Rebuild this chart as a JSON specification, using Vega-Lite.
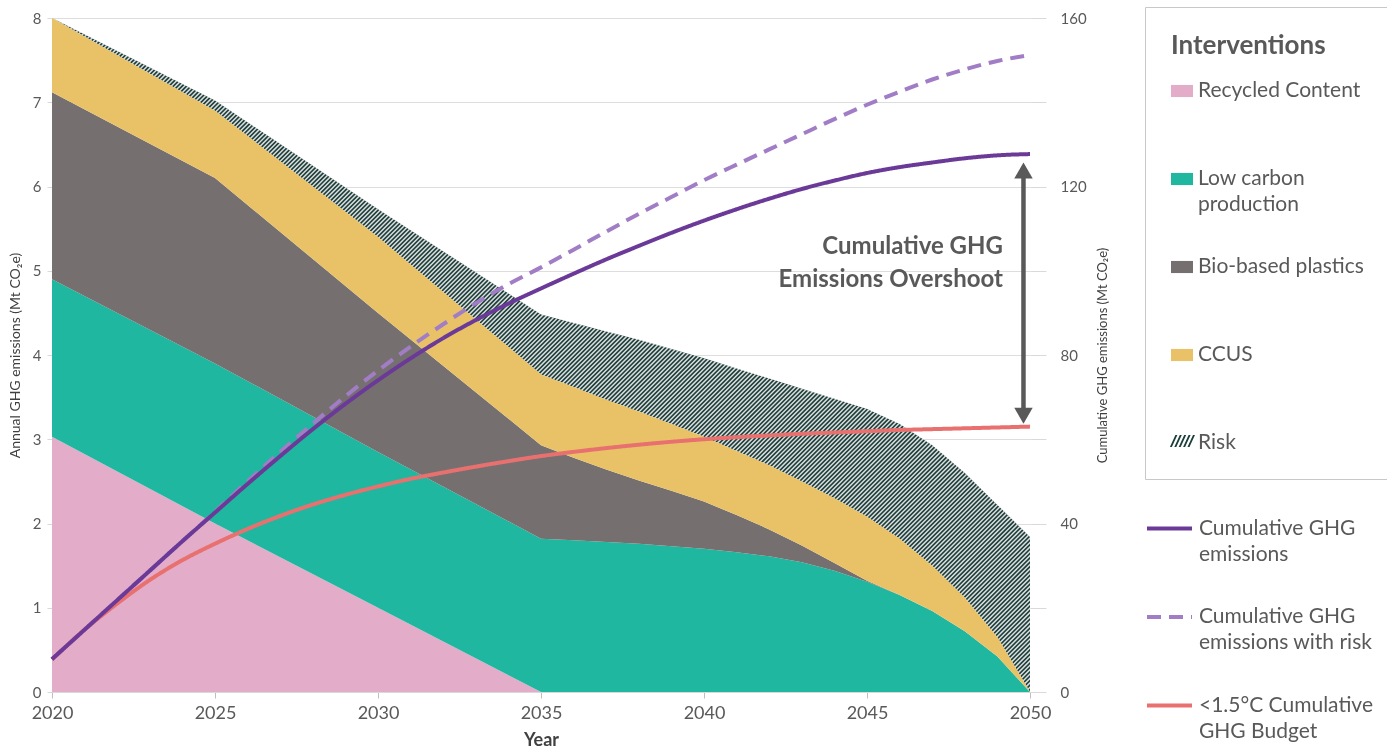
{
  "$schema": "https://vega.github.io/schema/vega-lite/v6.json",
  "width": 978,
  "height": 674,
  "autosize": "none",
  "padding": {"left": 52, "top": 18, "right": 357, "bottom": 59},
  "background": "white",
  "config": {"font": "Lato", "view": {"stroke": null}, "style": {"guide-label": {"lineHeight": 26}}},
  "datasets": {
    "areas": [
      {"year": 2020, "intervention": "Recycled Content", "order": 1, "value": 3.03},
      {"year": 2020, "intervention": "Low carbon production", "order": 2, "value": 1.87},
      {"year": 2020, "intervention": "Bio-based plastics", "order": 3, "value": 2.22},
      {"year": 2020, "intervention": "CCUS", "order": 4, "value": 0.88},
      {"year": 2020, "intervention": "Risk", "order": 5, "value": 0.0},
      {"year": 2025, "intervention": "Recycled Content", "order": 1, "value": 2.0},
      {"year": 2025, "intervention": "Low carbon production", "order": 2, "value": 1.9},
      {"year": 2025, "intervention": "Bio-based plastics", "order": 3, "value": 2.2},
      {"year": 2025, "intervention": "CCUS", "order": 4, "value": 0.8},
      {"year": 2025, "intervention": "Risk", "order": 5, "value": 0.12},
      {"year": 2030, "intervention": "Recycled Content", "order": 1, "value": 1.0},
      {"year": 2030, "intervention": "Low carbon production", "order": 2, "value": 1.85},
      {"year": 2030, "intervention": "Bio-based plastics", "order": 3, "value": 1.65},
      {"year": 2030, "intervention": "CCUS", "order": 4, "value": 0.9},
      {"year": 2030, "intervention": "Risk", "order": 5, "value": 0.33},
      {"year": 2035, "intervention": "Recycled Content", "order": 1, "value": 0},
      {"year": 2035, "intervention": "Low carbon production", "order": 2, "value": 1.82},
      {"year": 2035, "intervention": "Bio-based plastics", "order": 3, "value": 1.11},
      {"year": 2035, "intervention": "CCUS", "order": 4, "value": 0.84},
      {"year": 2035, "intervention": "Risk", "order": 5, "value": 0.71},
      {"year": 2036, "intervention": "Recycled Content", "order": 1, "value": 0},
      {"year": 2036, "intervention": "Low carbon production", "order": 2, "value": 1.8},
      {"year": 2036, "intervention": "Bio-based plastics", "order": 3, "value": 0.98},
      {"year": 2036, "intervention": "CCUS", "order": 4, "value": 0.84},
      {"year": 2036, "intervention": "Risk", "order": 5, "value": 0.76},
      {"year": 2037, "intervention": "Recycled Content", "order": 1, "value": 0},
      {"year": 2037, "intervention": "Low carbon production", "order": 2, "value": 1.78},
      {"year": 2037, "intervention": "Bio-based plastics", "order": 3, "value": 0.86},
      {"year": 2037, "intervention": "CCUS", "order": 4, "value": 0.83},
      {"year": 2037, "intervention": "Risk", "order": 5, "value": 0.81},
      {"year": 2038, "intervention": "Recycled Content", "order": 1, "value": 0},
      {"year": 2038, "intervention": "Low carbon production", "order": 2, "value": 1.76},
      {"year": 2038, "intervention": "Bio-based plastics", "order": 3, "value": 0.75},
      {"year": 2038, "intervention": "CCUS", "order": 4, "value": 0.82},
      {"year": 2038, "intervention": "Risk", "order": 5, "value": 0.85},
      {"year": 2039, "intervention": "Recycled Content", "order": 1, "value": 0},
      {"year": 2039, "intervention": "Low carbon production", "order": 2, "value": 1.73},
      {"year": 2039, "intervention": "Bio-based plastics", "order": 3, "value": 0.66},
      {"year": 2039, "intervention": "CCUS", "order": 4, "value": 0.79},
      {"year": 2039, "intervention": "Risk", "order": 5, "value": 0.89},
      {"year": 2040, "intervention": "Recycled Content", "order": 1, "value": 0},
      {"year": 2040, "intervention": "Low carbon production", "order": 2, "value": 1.7},
      {"year": 2040, "intervention": "Bio-based plastics", "order": 3, "value": 0.56},
      {"year": 2040, "intervention": "CCUS", "order": 4, "value": 0.77},
      {"year": 2040, "intervention": "Risk", "order": 5, "value": 0.93},
      {"year": 2041, "intervention": "Recycled Content", "order": 1, "value": 0},
      {"year": 2041, "intervention": "Low carbon production", "order": 2, "value": 1.66},
      {"year": 2041, "intervention": "Bio-based plastics", "order": 3, "value": 0.44},
      {"year": 2041, "intervention": "CCUS", "order": 4, "value": 0.76},
      {"year": 2041, "intervention": "Risk", "order": 5, "value": 0.98},
      {"year": 2042, "intervention": "Recycled Content", "order": 1, "value": 0},
      {"year": 2042, "intervention": "Low carbon production", "order": 2, "value": 1.61},
      {"year": 2042, "intervention": "Bio-based plastics", "order": 3, "value": 0.32},
      {"year": 2042, "intervention": "CCUS", "order": 4, "value": 0.76},
      {"year": 2042, "intervention": "Risk", "order": 5, "value": 1.03},
      {"year": 2043, "intervention": "Recycled Content", "order": 1, "value": 0},
      {"year": 2043, "intervention": "Low carbon production", "order": 2, "value": 1.54},
      {"year": 2043, "intervention": "Bio-based plastics", "order": 3, "value": 0.2},
      {"year": 2043, "intervention": "CCUS", "order": 4, "value": 0.76},
      {"year": 2043, "intervention": "Risk", "order": 5, "value": 1.1},
      {"year": 2044, "intervention": "Recycled Content", "order": 1, "value": 0},
      {"year": 2044, "intervention": "Low carbon production", "order": 2, "value": 1.44},
      {"year": 2044, "intervention": "Bio-based plastics", "order": 3, "value": 0.09},
      {"year": 2044, "intervention": "CCUS", "order": 4, "value": 0.77},
      {"year": 2044, "intervention": "Risk", "order": 5, "value": 1.18},
      {"year": 2045, "intervention": "Recycled Content", "order": 1, "value": 0},
      {"year": 2045, "intervention": "Low carbon production", "order": 2, "value": 1.31},
      {"year": 2045, "intervention": "Bio-based plastics", "order": 3, "value": 0.01},
      {"year": 2045, "intervention": "CCUS", "order": 4, "value": 0.76},
      {"year": 2045, "intervention": "Risk", "order": 5, "value": 1.28},
      {"year": 2046, "intervention": "Recycled Content", "order": 1, "value": 0},
      {"year": 2046, "intervention": "Low carbon production", "order": 2, "value": 1.15},
      {"year": 2046, "intervention": "Bio-based plastics", "order": 3, "value": 0},
      {"year": 2046, "intervention": "CCUS", "order": 4, "value": 0.67},
      {"year": 2046, "intervention": "Risk", "order": 5, "value": 1.36},
      {"year": 2047, "intervention": "Recycled Content", "order": 1, "value": 0},
      {"year": 2047, "intervention": "Low carbon production", "order": 2, "value": 0.96},
      {"year": 2047, "intervention": "Bio-based plastics", "order": 3, "value": 0},
      {"year": 2047, "intervention": "CCUS", "order": 4, "value": 0.54},
      {"year": 2047, "intervention": "Risk", "order": 5, "value": 1.43},
      {"year": 2048, "intervention": "Recycled Content", "order": 1, "value": 0},
      {"year": 2048, "intervention": "Low carbon production", "order": 2, "value": 0.72},
      {"year": 2048, "intervention": "Bio-based plastics", "order": 3, "value": 0},
      {"year": 2048, "intervention": "CCUS", "order": 4, "value": 0.4},
      {"year": 2048, "intervention": "Risk", "order": 5, "value": 1.48},
      {"year": 2049, "intervention": "Recycled Content", "order": 1, "value": 0},
      {"year": 2049, "intervention": "Low carbon production", "order": 2, "value": 0.42},
      {"year": 2049, "intervention": "Bio-based plastics", "order": 3, "value": 0},
      {"year": 2049, "intervention": "CCUS", "order": 4, "value": 0.23},
      {"year": 2049, "intervention": "Risk", "order": 5, "value": 1.57},
      {"year": 2050, "intervention": "Recycled Content", "order": 1, "value": 0},
      {"year": 2050, "intervention": "Low carbon production", "order": 2, "value": 0},
      {"year": 2050, "intervention": "Bio-based plastics", "order": 3, "value": 0},
      {"year": 2050, "intervention": "CCUS", "order": 4, "value": 0},
      {"year": 2050, "intervention": "Risk", "order": 5, "value": 1.84}
    ],
    "lines": [
      {"year": 2020, "series": "Cumulative GHG emissions with risk", "value": 7.8},
      {"year": 2021, "series": "Cumulative GHG emissions with risk", "value": 14.8},
      {"year": 2022, "series": "Cumulative GHG emissions with risk", "value": 21.8},
      {"year": 2023, "series": "Cumulative GHG emissions with risk", "value": 28.8},
      {"year": 2024, "series": "Cumulative GHG emissions with risk", "value": 35.8},
      {"year": 2025, "series": "Cumulative GHG emissions with risk", "value": 42.8},
      {"year": 2026, "series": "Cumulative GHG emissions with risk", "value": 50.0},
      {"year": 2027, "series": "Cumulative GHG emissions with risk", "value": 57.0},
      {"year": 2028, "series": "Cumulative GHG emissions with risk", "value": 63.7},
      {"year": 2029, "series": "Cumulative GHG emissions with risk", "value": 70.2},
      {"year": 2030, "series": "Cumulative GHG emissions with risk", "value": 76.3},
      {"year": 2031, "series": "Cumulative GHG emissions with risk", "value": 82.0},
      {"year": 2032, "series": "Cumulative GHG emissions with risk", "value": 87.3},
      {"year": 2033, "series": "Cumulative GHG emissions with risk", "value": 92.3},
      {"year": 2034, "series": "Cumulative GHG emissions with risk", "value": 96.8},
      {"year": 2035, "series": "Cumulative GHG emissions with risk", "value": 100.8},
      {"year": 2036, "series": "Cumulative GHG emissions with risk", "value": 105.0},
      {"year": 2037, "series": "Cumulative GHG emissions with risk", "value": 109.3},
      {"year": 2038, "series": "Cumulative GHG emissions with risk", "value": 113.5},
      {"year": 2039, "series": "Cumulative GHG emissions with risk", "value": 117.5},
      {"year": 2040, "series": "Cumulative GHG emissions with risk", "value": 121.5},
      {"year": 2041, "series": "Cumulative GHG emissions with risk", "value": 125.2},
      {"year": 2042, "series": "Cumulative GHG emissions with risk", "value": 128.8},
      {"year": 2043, "series": "Cumulative GHG emissions with risk", "value": 132.4},
      {"year": 2044, "series": "Cumulative GHG emissions with risk", "value": 136.0},
      {"year": 2045, "series": "Cumulative GHG emissions with risk", "value": 139.4},
      {"year": 2046, "series": "Cumulative GHG emissions with risk", "value": 142.5},
      {"year": 2047, "series": "Cumulative GHG emissions with risk", "value": 145.4},
      {"year": 2048, "series": "Cumulative GHG emissions with risk", "value": 147.8},
      {"year": 2049, "series": "Cumulative GHG emissions with risk", "value": 149.8},
      {"year": 2050, "series": "Cumulative GHG emissions with risk", "value": 151.2},
      {"year": 2020, "series": "<1.5°C Cumulative GHG Budget", "value": 7.7},
      {"year": 2021, "series": "<1.5°C Cumulative GHG Budget", "value": 14.8},
      {"year": 2022, "series": "<1.5°C Cumulative GHG Budget", "value": 21.0},
      {"year": 2023, "series": "<1.5°C Cumulative GHG Budget", "value": 26.6},
      {"year": 2024, "series": "<1.5°C Cumulative GHG Budget", "value": 31.3},
      {"year": 2025, "series": "<1.5°C Cumulative GHG Budget", "value": 35.2},
      {"year": 2026, "series": "<1.5°C Cumulative GHG Budget", "value": 38.7},
      {"year": 2027, "series": "<1.5°C Cumulative GHG Budget", "value": 41.8},
      {"year": 2028, "series": "<1.5°C Cumulative GHG Budget", "value": 44.5},
      {"year": 2029, "series": "<1.5°C Cumulative GHG Budget", "value": 46.8},
      {"year": 2030, "series": "<1.5°C Cumulative GHG Budget", "value": 48.8},
      {"year": 2031, "series": "<1.5°C Cumulative GHG Budget", "value": 50.6},
      {"year": 2032, "series": "<1.5°C Cumulative GHG Budget", "value": 52.1},
      {"year": 2033, "series": "<1.5°C Cumulative GHG Budget", "value": 53.5},
      {"year": 2034, "series": "<1.5°C Cumulative GHG Budget", "value": 54.8},
      {"year": 2035, "series": "<1.5°C Cumulative GHG Budget", "value": 56.0},
      {"year": 2036, "series": "<1.5°C Cumulative GHG Budget", "value": 57.0},
      {"year": 2037, "series": "<1.5°C Cumulative GHG Budget", "value": 57.9},
      {"year": 2038, "series": "<1.5°C Cumulative GHG Budget", "value": 58.7},
      {"year": 2039, "series": "<1.5°C Cumulative GHG Budget", "value": 59.4},
      {"year": 2040, "series": "<1.5°C Cumulative GHG Budget", "value": 60.0},
      {"year": 2041, "series": "<1.5°C Cumulative GHG Budget", "value": 60.5},
      {"year": 2042, "series": "<1.5°C Cumulative GHG Budget", "value": 60.9},
      {"year": 2043, "series": "<1.5°C Cumulative GHG Budget", "value": 61.3},
      {"year": 2044, "series": "<1.5°C Cumulative GHG Budget", "value": 61.6},
      {"year": 2045, "series": "<1.5°C Cumulative GHG Budget", "value": 61.9},
      {"year": 2046, "series": "<1.5°C Cumulative GHG Budget", "value": 62.2},
      {"year": 2047, "series": "<1.5°C Cumulative GHG Budget", "value": 62.4},
      {"year": 2048, "series": "<1.5°C Cumulative GHG Budget", "value": 62.6},
      {"year": 2049, "series": "<1.5°C Cumulative GHG Budget", "value": 62.8},
      {"year": 2050, "series": "<1.5°C Cumulative GHG Budget", "value": 63.0},
      {"year": 2020, "series": "Cumulative GHG emissions", "value": 7.8},
      {"year": 2021, "series": "Cumulative GHG emissions", "value": 14.8},
      {"year": 2022, "series": "Cumulative GHG emissions", "value": 21.8},
      {"year": 2023, "series": "Cumulative GHG emissions", "value": 28.8},
      {"year": 2024, "series": "Cumulative GHG emissions", "value": 35.8},
      {"year": 2025, "series": "Cumulative GHG emissions", "value": 42.6},
      {"year": 2026, "series": "Cumulative GHG emissions", "value": 49.4},
      {"year": 2027, "series": "Cumulative GHG emissions", "value": 56.0},
      {"year": 2028, "series": "Cumulative GHG emissions", "value": 62.4},
      {"year": 2029, "series": "Cumulative GHG emissions", "value": 68.4},
      {"year": 2030, "series": "Cumulative GHG emissions", "value": 74.0},
      {"year": 2031, "series": "Cumulative GHG emissions", "value": 79.2},
      {"year": 2032, "series": "Cumulative GHG emissions", "value": 84.0},
      {"year": 2033, "series": "Cumulative GHG emissions", "value": 88.3},
      {"year": 2034, "series": "Cumulative GHG emissions", "value": 92.2},
      {"year": 2035, "series": "Cumulative GHG emissions", "value": 95.8},
      {"year": 2036, "series": "Cumulative GHG emissions", "value": 99.3},
      {"year": 2037, "series": "Cumulative GHG emissions", "value": 102.7},
      {"year": 2038, "series": "Cumulative GHG emissions", "value": 105.9},
      {"year": 2039, "series": "Cumulative GHG emissions", "value": 109.0},
      {"year": 2040, "series": "Cumulative GHG emissions", "value": 111.9},
      {"year": 2041, "series": "Cumulative GHG emissions", "value": 114.6},
      {"year": 2042, "series": "Cumulative GHG emissions", "value": 117.1},
      {"year": 2043, "series": "Cumulative GHG emissions", "value": 119.4},
      {"year": 2044, "series": "Cumulative GHG emissions", "value": 121.4},
      {"year": 2045, "series": "Cumulative GHG emissions", "value": 123.2},
      {"year": 2046, "series": "Cumulative GHG emissions", "value": 124.6},
      {"year": 2047, "series": "Cumulative GHG emissions", "value": 125.7},
      {"year": 2048, "series": "Cumulative GHG emissions", "value": 126.7},
      {"year": 2049, "series": "Cumulative GHG emissions", "value": 127.4},
      {"year": 2050, "series": "Cumulative GHG emissions", "value": 127.7}
    ]
  },
  "layer": [
    {
      "layer": [
        {
          "data": {"name": "areas"},
          "transform": [
            {"stack": "value", "groupby": ["year"], "sort": [{"field": "order", "order": "ascending"}], "as": ["y0", "y1"]},
            {"filter": "datum.intervention === 'Risk'"}
          ],
          "mark": {"type": "area", "opacity": 1},
          "encoding": {
            "x": {
              "field": "year", "type": "quantitative",
              "scale": {"domain": [2020, 2050], "nice": false, "zero": false},
              "axis": {
                "title": "Year", "values": [2020, 2025, 2030, 2035, 2040, 2045, 2050], "format": "d",
                "labelFlush": false, "labelFontSize": 18, "labelColor": "#595959", "labelPadding": 6,
                "tickSize": 6, "tickColor": "#BFBFBF", "domainColor": "#D9D9D9", "grid": false,
                "titleFontSize": 18, "titleColor": "#404040", "titleFontWeight": "bold", "titlePadding": 9,
                "zindex": 1
              }
            },
            "y": {
              "field": "y1", "type": "quantitative",
              "scale": {"domain": [0, 8], "nice": false, "zero": true},
              "axis": {
                "title": "Annual GHG emissions (Mt CO₂e)", "values": [0, 1, 2, 3, 4, 5, 6, 7, 8], "format": "d",
                "grid": true, "gridColor": "#DDDDDD", "domain": false, "tickSize": 5, "tickColor": "#D9D9D9",
                "labelFontSize": 15, "labelColor": "#595959", "labelPadding": 6,
                "titleFontSize": 14, "titleFontWeight": "normal", "titleColor": "#404040", "titlePadding": 10,
                "zindex": 0
              }
            },
            "y2": {"field": "y0"},
            "fill": {
              "datum": "Risk", "type": "nominal",
              "scale": {"domain": ["Risk"], "range": ["#1B3F3B"]},
              "legend": {
                "orient": "none", "legendX": 1119, "legendY": 412, "title": null,
                "labelExpr": "''", "labelFontSize": 1,
                "symbolType": "M-1.1,0.55L-0.6,-0.55L-0.42,-0.55L-0.92,0.55ZM-0.7,0.55L-0.2,-0.55L-0.02,-0.55L-0.52,0.55ZM-0.3,0.55L0.2,-0.55L0.38,-0.55L-0.12,0.55ZM0.1,0.55L0.6,-0.55L0.78,-0.55L0.28,0.55ZM0.5,0.55L1,-0.55L1.18,-0.55L0.68,0.55Z",
                "symbolSize": 484, "symbolStrokeWidth": 0, "padding": 0
              }
            }
          }
        },
        {
          "data": {"values": [{}]},
          "mark": {"type": "rule", "strokeWidth": 345, "strokeDash": [1.5, 1.6], "strokeCap": "butt", "color": "#DDDDDD", "blend": "lighten", "opacity": 1},
          "encoding": {
            "x": {"datum": 2023.44, "type": "quantitative"},
            "y": {"datum": 9.41, "type": "quantitative"},
            "x2": {"datum": 2048.99},
            "y2": {"datum": -0.475}
          }
        },
        {
          "data": {"name": "areas"},
          "transform": [
            {"stack": "value", "groupby": ["year"], "sort": [{"field": "order", "order": "ascending"}], "as": ["y0", "y1"]},
            {"filter": "datum.intervention !== 'Risk'"}
          ],
          "mark": {"type": "area", "opacity": 1},
          "encoding": {
            "x": {"field": "year", "type": "quantitative"},
            "y": {"field": "y1", "type": "quantitative"},
            "y2": {"field": "y0"},
            "color": {
              "field": "intervention", "type": "nominal",
              "scale": {
                "domain": ["Recycled Content", "Low carbon production", "Bio-based plastics", "CCUS", "Risk"],
                "range": ["#E3ADCA", "#1FB79F", "#766F6F", "#E9C268", "transparent"]
              },
              "legend": {
                "orient": "none", "legendX": 1093, "legendY": -11,
                "title": "Interventions", "titleFontSize": 26, "titleFontWeight": "bold", "titleColor": "#595959", "titlePadding": 21,
                "labelFontSize": 21, "labelColor": "#595959", "labelOffset": 5, "labelLimit": 300,
                "labelExpr": "datum.value === 'Low carbon production' ? ['Low carbon', 'production'] : datum.value",
                "symbolType": "M-1,-0.55H1V0.55H-1Z", "symbolSize": 484, "symbolStrokeWidth": 0,
                "rowPadding": 41, "padding": 26, "strokeColor": "#C8C8C8", "gridAlign": "all"
              }
            }
          }
        }
      ]
    },
    {
      "layer": [
        {
          "data": {"name": "lines"},
          "mark": {"type": "line", "interpolate": "monotone", "strokeWidth": 4, "opacity": 1},
          "encoding": {
            "x": {"field": "year", "type": "quantitative"},
            "y": {
              "field": "value", "type": "quantitative",
              "scale": {"domain": [0, 160], "nice": false},
              "axis": {
                "orient": "right", "title": "Cumulative GHG emissions (Mt CO₂e)",
                "values": [0, 20, 40, 60, 80, 100, 120, 140, 160],
                "labelExpr": "datum.value % 40 === 0 ? datum.label : ''",
                "grid": false, "domain": false, "tickSize": 16, "tickColor": "#D9D9D9",
                "labelPadding": 14, "labelFontSize": 15, "labelColor": "#595959",
                "titleFontSize": 13, "titleColor": "#404040", "titleFontWeight": "normal", "titlePadding": 10,
                "titleAngle": -90, "titleBaseline": "top", "zindex": 1
              }
            },
            "stroke": {
              "field": "series", "type": "nominal",
              "scale": {
                "domain": ["Cumulative GHG emissions", "Cumulative GHG emissions with risk", "<1.5°C Cumulative GHG Budget"],
                "range": ["#6B3A98", "#A17DC6", "#E8716F"]
              },
              "legend": {
                "orient": "none", "legendX": 1093, "legendY": 486, "title": null,
                "symbolType": "stroke", "symbolSize": 2025, "symbolStrokeWidth": 4,
                "labelFontSize": 21, "labelColor": "#595959", "labelOffset": 5, "labelLimit": 300,
                "labelExpr": "datum.value === 'Cumulative GHG emissions' ? ['Cumulative GHG', 'emissions'] : datum.value === 'Cumulative GHG emissions with risk' ? ['Cumulative GHG', 'emissions with risk'] : ['<1.5°C Cumulative', 'GHG Budget']",
                "rowPadding": 27.5, "padding": 0, "gridAlign": "all"
              }
            },
            "strokeDash": {
              "field": "series", "type": "nominal",
              "scale": {
                "domain": ["Cumulative GHG emissions", "Cumulative GHG emissions with risk", "<1.5°C Cumulative GHG Budget"],
                "range": [[1, 0], [14, 8], [1, 0]]
              },
              "legend": {
                "orient": "none", "legendX": 1093, "legendY": 486, "title": null,
                "symbolType": "stroke", "symbolSize": 2025, "symbolStrokeWidth": 4,
                "labelFontSize": 21, "labelColor": "#595959", "labelOffset": 5, "labelLimit": 300,
                "labelExpr": "datum.value === 'Cumulative GHG emissions' ? ['Cumulative GHG', 'emissions'] : datum.value === 'Cumulative GHG emissions with risk' ? ['Cumulative GHG', 'emissions with risk'] : ['<1.5°C Cumulative', 'GHG Budget']",
                "rowPadding": 27.5, "padding": 0, "gridAlign": "all"
              }
            }
          }
        },
        {
          "data": {"values": [{}]},
          "mark": {"type": "rule", "strokeWidth": 4.5, "color": "#595959"},
          "encoding": {
            "x": {"datum": 2049.8, "type": "quantitative"},
            "y": {"datum": 122.5, "type": "quantitative"},
            "y2": {"datum": 67.0}
          }
        },
        {
          "data": {"values": [{}]},
          "mark": {"type": "point", "shape": "triangle-up", "size": 340, "filled": true, "color": "#595959", "opacity": 1},
          "encoding": {
            "x": {"datum": 2049.8, "type": "quantitative"},
            "y": {"datum": 123.8, "type": "quantitative"}
          }
        },
        {
          "data": {"values": [{}]},
          "mark": {"type": "point", "shape": "triangle-down", "size": 340, "filled": true, "color": "#595959", "opacity": 1},
          "encoding": {
            "x": {"datum": 2049.8, "type": "quantitative"},
            "y": {"datum": 65.6, "type": "quantitative"}
          }
        },
        {
          "data": {"values": [{}]},
          "mark": {"type": "text", "text": ["Cumulative GHG", "Emissions Overshoot"], "align": "right", "baseline": "middle", "fontSize": 24, "fontWeight": "bold", "color": "#595959", "lineHeight": 33},
          "encoding": {
            "x": {"datum": 2049.17, "type": "quantitative"},
            "y": {"datum": 105.6, "type": "quantitative"}
          }
        }
      ]
    }
  ],
  "resolve": {"scale": {"y": "independent"}}
}
